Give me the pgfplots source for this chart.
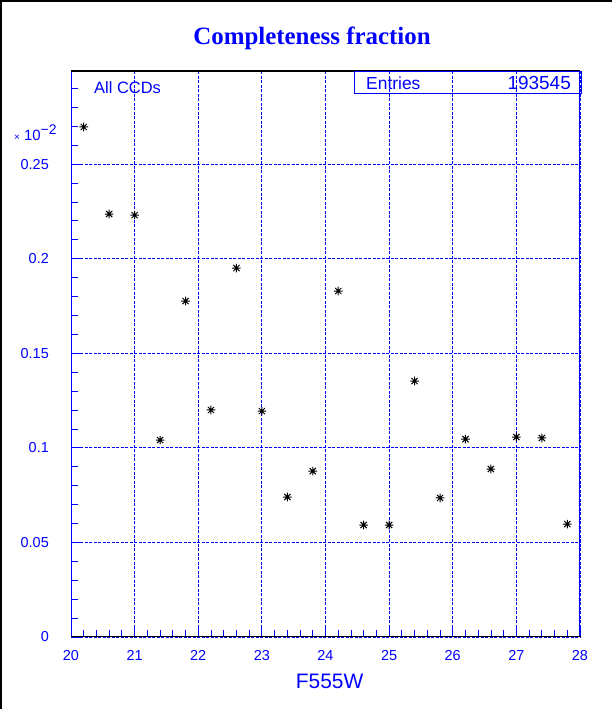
\documentclass[border=0pt]{standalone}
\usepackage{pgfplots}
\pgfplotsset{compat=1.18}
\usepackage{fontspec}
\setmainfont{Liberation Sans}
\newfontfamily\titlefont{Liberation Serif}
\definecolor{rootblue}{RGB}{0,0,255}
\pgfdeclareplotmark{star8}{%
  \pgfpathmoveto{\pgfqpoint{-\pgfplotmarksize}{0pt}}\pgfpathlineto{\pgfqpoint{\pgfplotmarksize}{0pt}}%
  \pgfpathmoveto{\pgfqpoint{0pt}{-\pgfplotmarksize}}\pgfpathlineto{\pgfqpoint{0pt}{\pgfplotmarksize}}%
  \pgfpathmoveto{\pgfqpoint{-0.72\pgfplotmarksize}{-0.72\pgfplotmarksize}}\pgfpathlineto{\pgfqpoint{0.72\pgfplotmarksize}{0.72\pgfplotmarksize}}%
  \pgfpathmoveto{\pgfqpoint{-0.72\pgfplotmarksize}{0.72\pgfplotmarksize}}\pgfpathlineto{\pgfqpoint{0.72\pgfplotmarksize}{-0.72\pgfplotmarksize}}%
  \pgfusepathqstroke}
\begin{document}
\begin{tikzpicture}
\useasboundingbox (0,0) rectangle (612bp,709bp);
\fill[white] (0,0) rectangle (612bp,709bp);
\begin{axis}[
  at={(71bp,72bp)}, anchor=south west,
  scale only axis, width=509bp, height=566bp,
  xmin=20, xmax=28, ymin=0, ymax=0.2992,
  xtick={20,21,...,28},
  minor x tick num=4,
  ytick={0,0.05,0.1,0.15,0.2,0.25},
  yticklabels={0,0.05,0.1,0.15,0.2,0.25},
  minor ytick={0.01,0.02,...,0.29},
  xtick pos=bottom, ytick pos=left,
  tick align=inside,
  major tick length=12bp, minor tick length=6.5bp,
  tick style={rootblue, line width=0.8bp},
  grid=major,
  major grid style={rootblue, line width=0.9bp, dash pattern=on 3bp off 1.5bp},
  axis line style={black, line width=1bp},
  /pgf/number format/assume math mode=true,
  ticklabel style={font=\fontsize{14.5}{16}\selectfont, text=rootblue},
  xticklabel style={inner sep=0pt, anchor=north, yshift=-13bp},
  yticklabel style={inner sep=0pt, anchor=east, xshift=-22bp},
  xlabel={F555W},
  xlabel style={at={(axis description cs:0.508,0)}, anchor=center, yshift=-44bp, font=\fontsize{21}{24}\selectfont, text=rootblue},
  clip=false,
]
\addplot[only marks, mark=star8, mark size=4.3bp, mark options={black, line width=1bp}] coordinates {
(20.2,0.2696) (20.6,0.2236) (21.0,0.2230) (21.4,0.1041) (21.8,0.1776)
(22.2,0.1200) (22.6,0.1950) (23.0,0.1194) (23.4,0.0740) (23.8,0.0877)
(24.2,0.1829) (24.6,0.0592) (25.0,0.0592) (25.4,0.1353) (25.8,0.0735)
(26.2,0.1046) (26.6,0.0888) (27.0,0.1057) (27.4,0.1052) (27.8,0.0597)
};
\draw[rootblue, line width=1bp] (rel axis cs:0,0) -- (rel axis cs:0,1);
\draw[rootblue, line width=1bp] (rel axis cs:1,0) -- (rel axis cs:1,1);
\end{axis}
\draw[black, line width=1bp] (71bp,637bp) -- (581bp,637bp);
\draw[black, line width=1bp] (71bp,72bp) -- (581bp,72bp);
% Entries box
\draw[rootblue, line width=1bp] (354bp,637bp) rectangle (581bp,615bp);
\node[anchor=west, inner sep=0pt, text=rootblue, font=\fontsize{17.5}{19}\selectfont] at (366bp,626bp) {Entries};
\node[anchor=east, inner sep=0pt, text=rootblue, font=\fontsize{19}{21}\selectfont] at (571bp,626bp) {193545};
% All CCDs
\node[anchor=west, inner sep=0pt, text=rootblue, font=\fontsize{16.5}{18}\selectfont] at (94bp,621bp) {All CCDs};
% exponent
\node[anchor=west, inner sep=0pt, text=rootblue] at (14bp,576bp) {\fontsize{10}{12}\selectfont ×\hspace{4bp}\fontsize{15}{17}\selectfont 10\raisebox{6bp}{\fontsize{14}{16}\selectfont −2}};
% title
\node[text=rootblue, font=\titlefont\bfseries\fontsize{25}{29}\selectfont] at (312bp,671bp) {Completeness fraction};
% canvas border
\draw[black, line width=2bp] (1bp,0) -- (1bp,708bp) -- (612bp,708bp);
\end{tikzpicture}
\end{document}
